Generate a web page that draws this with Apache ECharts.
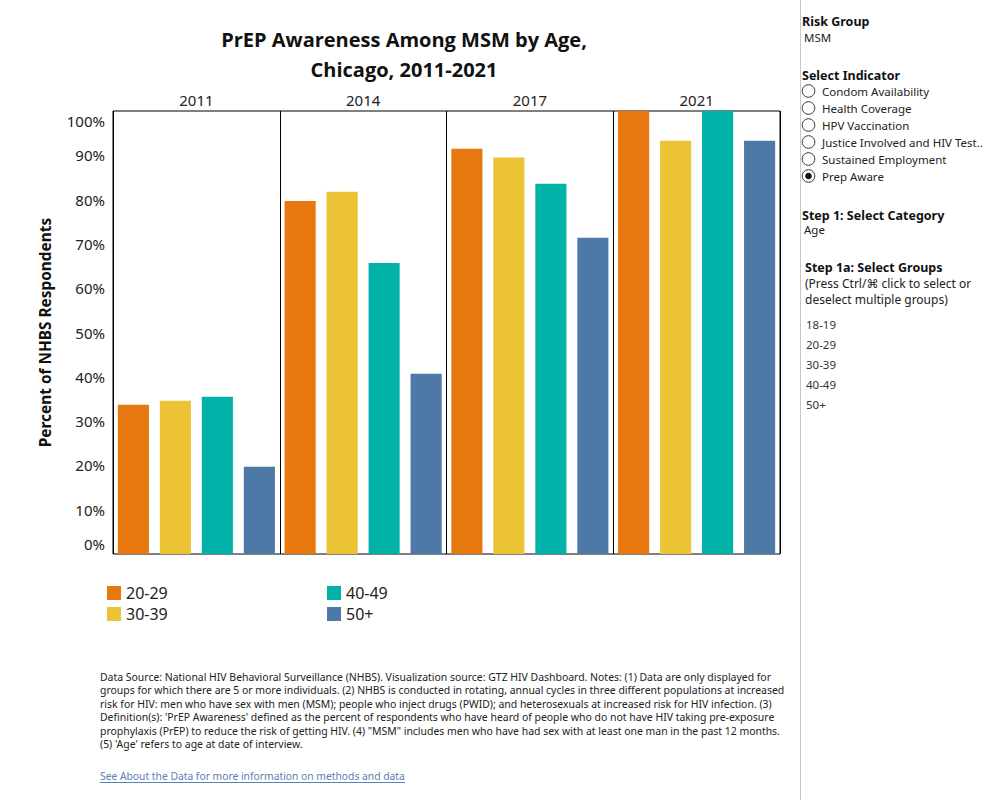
<!DOCTYPE html>
<html>
<head>
<meta charset="utf-8">
<script src="https://cdn.jsdelivr.net/npm/echarts@6/dist/echarts.min.js"></script>
<style>
html,body{margin:0;padding:0;background:#fff;}
#chart{width:1000px;height:800px;}
</style>
</head>
<body>
<div id="chart"></div>
<script>
// ---- Data ----
const years = ['2011', '2014', '2017', '2021'];
const ageGroups = ['20-29', '30-39', '40-49', '50+'];
const aware2029 = [33.7, 79.7, 91.5, 100];
const aware3039 = [34.6, 81.8, 89.5, 93.3];
const aware4049 = [35.5, 65.7, 83.6, 100];
const aware50plus = [19.7, 40.7, 71.4, 93.3];
const groupColors = ['#E6780F', '#EBC334', '#01B2A9', '#4E78A6'];
const titleLines = ['PrEP Awareness Among MSM by Age,', 'Chicago, 2011-2021'];
const yAxisTitle = 'Percent of NHBS Respondents';
const indicators = ['Condom Availability', 'Health Coverage', 'HPV Vaccination', 'Justice Involved and HIV Test..', 'Sustained Employment', 'Prep Aware'];
const selectedIndicator = 'Prep Aware';
const groupOptions = ['18-19', '20-29', '30-39', '40-49', '50+'];
const footnoteLines = [
  "Data Source: National HIV Behavioral Surveillance (NHBS). Visualization source: GTZ HIV Dashboard. Notes: (1) Data are only displayed for",
  "groups for which there are 5 or more individuals. (2) NHBS is conducted in rotating, annual cycles in three different populations at increased",
  "risk for HIV: men who have sex with men (MSM); people who inject drugs (PWID); and heterosexuals at increased risk for HIV infection. (3)",
  "Definition(s): 'PrEP Awareness' defined as the percent of respondents who have heard of people who do not have HIV taking pre-exposure",
  "prophylaxis (PrEP) to reduce the risk of getting HIV. (4) \"MSM\" includes men who have had sex with at least one man in the past 12 months.",
  "(5) 'Age' refers to age at date of interview."
];
const linkText = 'See About the Data for more information on methods and data';

const seriesValues = [aware2029, aware3039, aware4049, aware50plus];
const FONT = "'Noto Sans', 'DejaVu Sans', sans-serif";

const chart = echarts.init(document.getElementById('chart'), null, {renderer: 'svg'});

const graphics = [];
// Title
titleLines.forEach((t, i) => {
  graphics.push({type: 'text', x: 404, y: 39 + i * 30,
    style: {text: t, fontFamily: "'Open Sans', " + FONT, fontWeight: 'bold', fontSize: 20, fill: '#111',
      textAlign: 'center', textVerticalAlign: 'middle'}});
});
// Side panel separator
graphics.push({type: 'line', shape: {x1: 800.5, y1: 0, x2: 800.5, y2: 800}, style: {stroke: '#c8c8c8', lineWidth: 1}});
function sideText(t, x, y, bold, size, color) {
  graphics.push({type: 'text', x: x, y: y,
    style: {text: t, fontFamily: FONT, fontWeight: bold ? 'bold' : 'normal', fontSize: size, fill: color || '#222',
      textAlign: 'left', textVerticalAlign: 'middle'}});
}
sideText('Risk Group', 802, 21, true, 12.5, '#111');
sideText('MSM', 804, 37, false, 11.5, '#222');
sideText('Select Indicator', 802, 75, true, 12.5, '#111');
indicators.forEach((ind, i) => {
  const cy = 91 + i * 17;
  graphics.push({type: 'circle', shape: {cx: 808.5, cy: cy, r: 6.3}, style: {fill: '#fff', stroke: '#333', lineWidth: 1}});
  if (ind === selectedIndicator) {
    graphics.push({type: 'circle', shape: {cx: 808.5, cy: cy, r: 3.3}, style: {fill: '#111'}});
  }
  sideText(ind, 822, cy, false, 11.5, '#222');
});
sideText('Step 1: Select Category', 802, 215, true, 12.5, '#111');
sideText('Age', 804, 229, false, 11.5, '#222');
sideText('Step 1a: Select Groups', 805, 267, true, 12.5, '#111');
sideText('(Press Ctrl/\u2318 click to select or', 805, 283, false, 12, '#222');
sideText('deselect multiple groups)', 805, 299, false, 12, '#222');
groupOptions.forEach((g, i) => {
  sideText(g, 806, 324 + i * 20.2, false, 11.5, '#333');
});
// Footnote
footnoteLines.forEach((t, i) => {
  graphics.push({type: 'text', x: 100, y: 677 + i * 13.4,
    style: {text: t, fontFamily: FONT, fontSize: 10.45, fill: '#222', textAlign: 'left', textVerticalAlign: 'middle'}});
});
graphics.push({type: 'text', x: 100, y: 776,
  style: {text: linkText, fontFamily: FONT, fontSize: 10.3, fill: '#5B80B4', textAlign: 'left', textVerticalAlign: 'middle'}});
graphics.push({type: 'line', shape: {x1: 100, y1: 782.5, x2: 405, y2: 782.5}, style: {stroke: '#5B80B4', lineWidth: 1}});

const legendBase = {orient: 'vertical', top: 585, itemWidth: 14, itemHeight: 14, itemGap: 5, padding: 0,
  icon: 'rect', selectedMode: false,
  textStyle: {fontSize: 16, color: '#222', fontFamily: FONT, lineHeight: 14, padding: [0, 0, 0, 0]}};

const option = {
  backgroundColor: '#fff',
  animation: false,
  textStyle: {fontFamily: FONT},
  grid: {left: 113, top: 111, width: 667, height: 443, show: true, borderColor: '#000', borderWidth: 1, containLabel: false},
  legend: [
    Object.assign({}, legendBase, {data: ageGroups.slice(0, 2), left: 107}),
    Object.assign({}, legendBase, {data: ageGroups.slice(2, 4), left: 327})
  ],
  xAxis: {
    type: 'category', data: years, position: 'top',
    axisLine: {show: false}, axisTick: {show: false},
    axisLabel: {fontSize: 15, color: '#222', margin: 4, fontFamily: FONT},
    splitLine: {show: true, lineStyle: {color: '#000', width: 1}}
  },
  yAxis: {
    type: 'value', min: 0, max: 100, interval: 10,
    name: yAxisTitle, nameLocation: 'middle', nameRotate: 90, nameGap: 60,
    nameTextStyle: {fontSize: 15.4, fontWeight: 'bold', color: '#111', fontFamily: FONT},
    axisLine: {show: false}, axisTick: {show: false}, splitLine: {show: false},
    axisLabel: {
      fontSize: 15, color: '#222', margin: 8, lineHeight: 20, fontFamily: FONT,
      formatter: function (v) {
        if (v === 0) return '0%\n ';
        if (v === 100) return ' \n100%';
        return v + '%';
      }
    }
  },
  series: ageGroups.map((g, i) => ({
    name: g, type: 'bar', data: seriesValues[i],
    barGap: '35%', barCategoryGap: '5.8%',
    itemStyle: {color: groupColors[i]}
  })),
  graphic: graphics
};
chart.setOption(option);
</script>
</body>
</html>
